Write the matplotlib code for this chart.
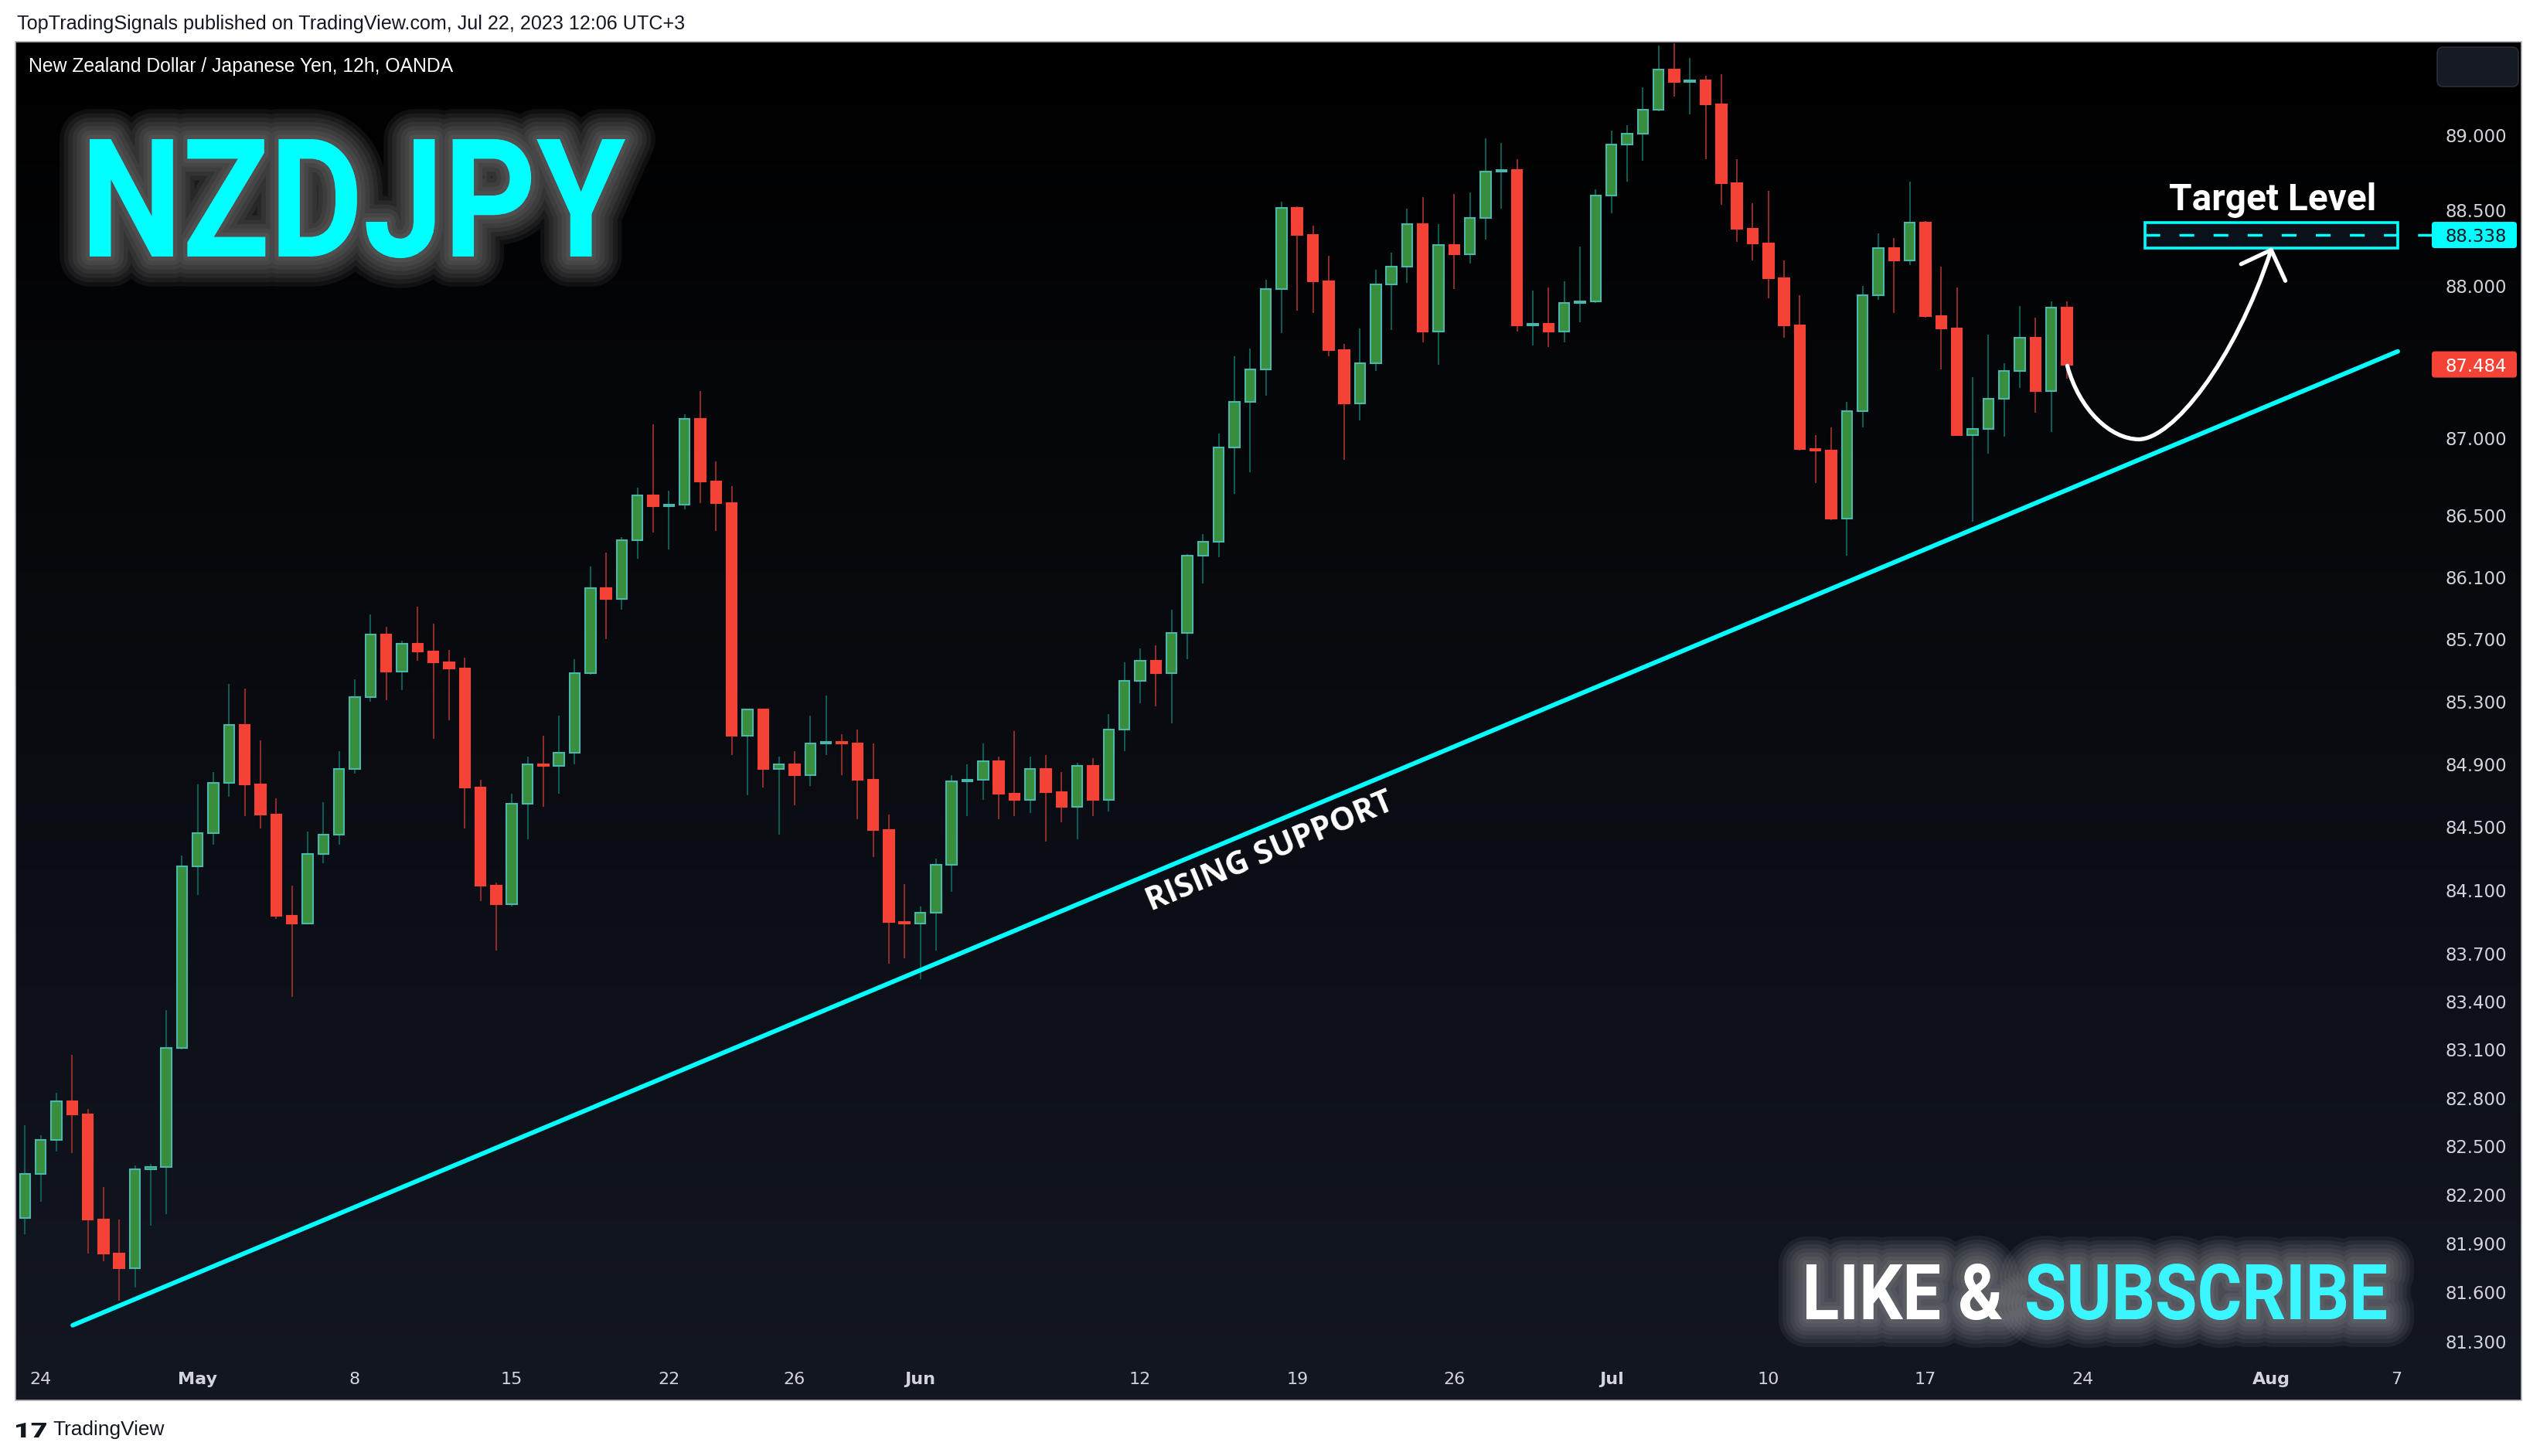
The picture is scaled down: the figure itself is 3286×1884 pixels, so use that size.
import numpy as np
import pandas as pd
import matplotlib
matplotlib.use('Agg')
import matplotlib.pyplot as plt
from matplotlib.patches import PathPatch, FancyBboxPatch, Rectangle
from matplotlib.path import Path
from matplotlib.textpath import TextPath
from matplotlib.font_manager import FontProperties
from matplotlib.transforms import Affine2D, IdentityTransform
from matplotlib.colors import LinearSegmentedColormap
from matplotlib.ticker import NullLocator
import matplotlib.patheffects as pe

# ------------------------------------------------------------------ data
first_bar = '2023-04-21 12:00'   # 12h bars, weekdays only
opens = [82.06, 82.33, 82.54, 82.78, 82.70, 82.05, 81.84, 81.75, 82.36, 82.37,
         83.11, 84.25, 84.46, 84.78, 85.15, 84.77, 84.58, 83.94, 83.89, 84.33,
         84.45, 84.87, 85.33, 85.73, 85.49, 85.67, 85.62, 85.55, 85.51, 84.75,
         84.13, 84.01, 84.65, 84.90, 84.89, 84.97, 85.48, 86.03, 85.96, 86.34,
         86.63, 86.56, 86.57, 87.13, 86.72, 86.58, 85.08, 85.25, 84.87, 84.90,
         84.83, 85.03, 85.04, 85.03, 84.80, 84.48, 83.90, 83.89, 83.96, 84.26,
         84.79, 84.80, 84.92, 84.71, 84.67, 84.87, 84.72, 84.63, 84.89, 84.67,
         85.12, 85.43, 85.56, 85.48, 85.74, 86.24, 86.33, 86.94, 87.24, 87.45,
         87.98, 88.52, 88.34, 88.03, 87.58, 87.23, 87.49, 88.01, 88.13, 88.41,
         87.70, 88.27, 88.21, 88.45, 88.76, 88.77, 87.74, 87.75, 87.70, 87.89,
         87.90, 88.60, 88.94, 89.01, 89.17, 89.44, 89.36, 89.37, 89.21, 88.68,
         88.38, 88.28, 88.05, 87.74, 86.93, 86.92, 86.48, 87.18, 87.94, 88.25,
         88.17, 88.42, 87.80, 87.72, 87.02, 87.06, 87.26, 87.44, 87.66, 87.31,
         87.86]
highs = [82.63, 82.57, 82.83, 83.07, 82.73, 82.25, 82.05, 82.38, 82.39, 83.35,
         84.32, 84.77, 84.85, 85.41, 85.38, 85.05, 84.68, 84.13, 84.47, 84.66,
         84.98, 85.44, 85.86, 85.78, 85.69, 85.91, 85.80, 85.63, 85.58, 84.80,
         84.15, 84.71, 84.95, 85.08, 85.21, 85.57, 86.17, 86.26, 86.36, 86.68,
         87.09, 86.66, 87.16, 87.31, 86.85, 86.69, 85.25, 85.25, 84.95, 84.98,
         85.21, 85.34, 85.09, 85.12, 85.03, 84.58, 84.14, 84.00, 84.30, 84.83,
         84.90, 85.03, 84.95, 85.11, 84.95, 84.96, 84.85, 84.91, 84.94, 85.22,
         85.55, 85.64, 85.66, 85.89, 86.25, 86.38, 87.03, 87.54, 87.59, 88.04,
         88.56, 88.53, 88.40, 88.20, 87.62, 87.72, 88.11, 88.22, 88.51, 88.59,
         88.41, 88.61, 88.62, 88.98, 88.95, 88.84, 87.97, 87.99, 88.03, 88.26,
         88.64, 89.03, 89.07, 89.32, 89.60, 89.62, 89.52, 89.40, 89.41, 88.84,
         88.55, 88.63, 88.17, 87.94, 87.02, 87.07, 87.24, 88.00, 88.35, 88.32,
         88.69, 88.43, 88.13, 87.99, 87.40, 87.68, 87.49, 87.87, 87.79, 87.90,
         87.90]
lows = [81.96, 82.16, 82.47, 82.46, 81.84, 81.79, 81.55, 81.63, 82.01, 82.08,
        83.10, 84.07, 84.39, 84.69, 84.57, 84.49, 83.92, 83.43, 83.89, 84.27,
        84.39, 84.84, 85.30, 85.31, 85.37, 85.56, 85.06, 85.18, 84.49, 84.03,
        83.72, 84.00, 84.42, 84.63, 84.71, 84.90, 85.47, 85.70, 85.89, 86.22,
        86.39, 86.28, 86.54, 86.58, 86.40, 84.96, 84.70, 84.75, 84.45, 84.64,
        84.76, 84.96, 84.83, 84.55, 84.31, 83.64, 83.67, 83.54, 83.72, 84.09,
        84.57, 84.67, 84.55, 84.57, 84.59, 84.41, 84.53, 84.42, 84.57, 84.60,
        84.98, 85.29, 85.27, 85.16, 85.57, 86.06, 86.23, 86.64, 86.78, 87.28,
        87.69, 87.84, 87.82, 87.54, 86.86, 87.12, 87.44, 87.71, 88.02, 87.63,
        87.48, 87.98, 88.15, 88.31, 88.51, 87.70, 87.61, 87.60, 87.63, 87.76,
        87.89, 88.48, 88.69, 88.83, 89.16, 89.26, 89.14, 88.84, 88.54, 88.29,
        88.17, 87.92, 87.66, 86.92, 86.71, 86.47, 86.24, 87.07, 87.91, 87.82,
        88.14, 87.79, 87.45, 87.02, 86.46, 86.90, 87.01, 87.33, 87.17, 87.04,
        87.39]
closes = [82.33, 82.54, 82.78, 82.70, 82.05, 81.84, 81.75, 82.36, 82.37, 83.11,
          84.25, 84.46, 84.78, 85.15, 84.77, 84.58, 83.94, 83.89, 84.33, 84.45,
          84.87, 85.33, 85.73, 85.49, 85.67, 85.62, 85.55, 85.51, 84.75, 84.13,
          84.01, 84.65, 84.90, 84.89, 84.97, 85.48, 86.03, 85.96, 86.34, 86.63,
          86.56, 86.57, 87.13, 86.72, 86.58, 85.08, 85.25, 84.87, 84.90, 84.83,
          85.03, 85.04, 85.03, 84.80, 84.48, 83.90, 83.89, 83.96, 84.26, 84.79,
          84.80, 84.92, 84.71, 84.67, 84.87, 84.72, 84.63, 84.89, 84.67, 85.12,
          85.43, 85.56, 85.48, 85.74, 86.24, 86.33, 86.94, 87.24, 87.45, 87.98,
          88.52, 88.34, 88.03, 87.58, 87.23, 87.49, 88.01, 88.13, 88.41, 87.70,
          88.27, 88.21, 88.45, 88.76, 88.77, 87.74, 87.75, 87.70, 87.89, 87.90,
          88.60, 88.94, 89.01, 89.17, 89.44, 89.36, 89.37, 89.21, 88.68, 88.38,
          88.28, 88.05, 87.74, 86.93, 86.92, 86.48, 87.18, 87.94, 88.25, 88.17,
          88.42, 87.80, 87.72, 87.02, 87.06, 87.26, 87.44, 87.66, 87.31, 87.86,
          87.484]

price_ticks = [81.3, 81.6, 81.9, 82.2, 82.5, 82.8, 83.1, 83.4, 83.7, 84.1,
               84.5, 84.9, 85.3, 85.7, 86.1, 86.5, 87.0, 88.0, 88.5, 89.0]
time_tick_dates = ['2023-04-24', '2023-05-01', '2023-05-08', '2023-05-15',
                   '2023-05-22', '2023-05-26', '2023-06-01', '2023-06-12',
                   '2023-06-19', '2023-06-26', '2023-07-03', '2023-07-10',
                   '2023-07-17', '2023-07-24', '2023-08-01', '2023-08-07']
time_tick_labels = ['24', 'May', '8', '15', '22', '26', 'Jun', '12',
                    '19', '26', 'Jul', '10', '17', '24', 'Aug', '7']

# drawing-tool anchors (bar position, price)
support_x = [3.04, 151.07]
support_p = [81.40, 87.57]
target_price = 88.338
target_zone_x = [135.0, 151.07]
target_zone_p = [88.252, 88.42]
arrow_x = [130.03, 130.79, 132.76, 134.58, 136.70, 140.64, 143.01]
arrow_p = [87.475, 87.188, 86.996, 86.994, 86.996, 87.492, 88.239]
arrow_head_x = [141.09, 143.01, 143.91]
arrow_head_p = [88.145, 88.239, 88.035]
last_price = 87.484

# ------------------------------------------------------------------ style
W, H, DPI = 3286, 1884, 200
CYAN = '#00FFFF'
UP_FILL, UP_EDGE, UP_WICK = '#388E3C', '#4DB6AC', '#0F5A52'
DN_FILL, DN_EDGE, DN_WICK = '#F44336', '#F44336', '#8A2C2A'
AXIS_TXT = '#D1D4DC'

fig = plt.figure(figsize=(W / DPI, H / DPI), dpi=DPI, facecolor='white')
renderer = fig.canvas.get_renderer()
ID = IdentityTransform()


def disp(x, y):
    """pixel (from top-left) -> display coords"""
    return x, H - y


# pane background with vertical gradient
PANE = (20, 54, 3262, 1812)
bg = fig.add_axes([PANE[0] / W, 1 - PANE[3] / H, (PANE[2] - PANE[0]) / W,
                   (PANE[3] - PANE[1]) / H], zorder=0)
grad = np.linspace(0, 1, 256)[:, None]
bg.imshow(grad, aspect='auto',
          cmap=LinearSegmentedColormap.from_list('bg', ['#000000', '#131722']))
bg.set_axis_off()
fig.add_artist(Rectangle(disp(PANE[0], PANE[3]), PANE[2] - PANE[0], PANE[3] - PANE[1],
                         transform=ID, fill=False, ec='#B2B5BE', lw=0.6, zorder=8))

# main price axes
PLOT = (20, 54, 3146, 1760)
ax = fig.add_axes([PLOT[0] / W, 1 - PLOT[3] / H, (PLOT[2] - PLOT[0]) / W,
                   (PLOT[3] - PLOT[1]) / H], zorder=2)
ax.patch.set_visible(False)
for s in ax.spines.values():
    s.set_visible(False)
ax.set_yscale('log')
ax.set_xlim(-0.604, 153.234)
ax.set_ylim(81.187, 89.628)

# bar positions from timestamps
all_ts = pd.date_range(first_bar, '2023-08-25', freq='12h')
bar_ts = all_ts[all_ts.dayofweek < 5]
pos_of = {t: i for i, t in enumerate(bar_ts)}
x = np.arange(len(opens))
o, h, l, c = map(np.array, (opens, highs, lows, closes))
up = c >= o

ax.vlines(x[up], l[up], h[up], color=UP_WICK, lw=0.75, zorder=2)
ax.vlines(x[~up], l[~up], h[~up], color=DN_WICK, lw=0.75, zorder=2)
body_lo = np.minimum(o, c)
body_h = np.maximum(np.abs(c - o), 0.004)
ax.bar(x[up], body_h[up], bottom=body_lo[up], width=0.66, color=UP_FILL,
       edgecolor=UP_EDGE, linewidth=0.75, zorder=3)
ax.bar(x[~up], body_h[~up], bottom=body_lo[~up], width=0.66, color=DN_FILL,
       edgecolor=DN_EDGE, linewidth=0.75, zorder=3)

# axes ticks
ax.set_yticks(price_ticks, labels=[f'{p:.3f}' for p in price_ticks])
ax.yaxis.set_minor_locator(NullLocator())
ax.yaxis.tick_right()
ax.tick_params(axis='y', length=0, pad=97 * 72 / DPI, labelcolor=AXIS_TXT,
               labelsize=8.2)
for lab in ax.get_yticklabels():
    lab.set_horizontalalignment('right')
tick_pos = [pos_of[pd.Timestamp(d)] for d in time_tick_dates]
ax.set_xticks(tick_pos, labels=time_tick_labels)
ax.xaxis.set_minor_locator(NullLocator())
ax.tick_params(axis='x', length=0, pad=15 * 72 / DPI, labelcolor=AXIS_TXT,
               labelsize=8)
for lab, txt in zip(ax.get_xticklabels(), time_tick_labels):
    if txt.isalpha():
        lab.set_fontweight('bold')

# rising support line + label
ax.plot(support_x, support_p, color=CYAN, lw=2.1, solid_capstyle='round', zorder=4)
p0 = ax.transData.transform((support_x[0], support_p[0]))
p1 = ax.transData.transform((support_x[1], support_p[1]))
ang = np.degrees(np.arctan2(p1[1] - p0[1], p1[0] - p0[0]))
t_rs = ax.text(79.27, 84.34, 'RISING SUPPORT', rotation=0, rotation_mode='anchor',
               ha='center', va='center', color='white', fontsize=13,
               family='Open Sans', fontweight='bold', zorder=5)
wflat = t_rs.get_window_extent(renderer).width
t_rs.set_fontsize(13 * 343 / wflat)
t_rs.set_rotation(ang)

# target zone
ax.add_patch(Rectangle((target_zone_x[0], target_zone_p[0]),
                       target_zone_x[1] - target_zone_x[0],
                       target_zone_p[1] - target_zone_p[0],
                       fc='#0B111B', ec=CYAN, lw=1.3, zorder=4))
ax.hlines(target_price, target_zone_x[0], 153.234, color=CYAN, lw=1.25,
          linestyles=(0, (5.5, 7.2)), zorder=5)
t_tl = ax.text(143.1, 88.50, 'Target Level', ha='center', va='baseline',
               color='white', fontsize=17, family='Roboto', fontweight='bold', zorder=5)
t_tl.set_fontsize(17 * 268 / t_tl.get_window_extent(renderer).width)

# projected path arrow
codes = [Path.MOVETO] + [Path.CURVE4] * 6
ax.add_patch(PathPatch(Path(np.column_stack([arrow_x, arrow_p]), codes),
                       fc='none', ec='white', lw=1.9, capstyle='round', zorder=5))
ax.plot(arrow_head_x, arrow_head_p, color='white', lw=1.9,
        solid_capstyle='round', solid_joinstyle='round', zorder=5)


# price tags on the scale
def price_tag(price, fc, tc):
    yd = ax.transData.transform((0, price))[1]
    fig.add_artist(FancyBboxPatch((3146, yd - 17), 110, 34,
                                  boxstyle='round,pad=0,rounding_size=4',
                                  transform=ID, fc=fc, ec='none', zorder=6))
    fig.text(3243, yd, f'{price:.3f}', transform=ID, ha='right', va='center_baseline',
             color=tc, fontsize=8.2, family='DejaVu Sans', zorder=7)


price_tag(target_price, CYAN, '#131722')
price_tag(last_price, '#F44336', 'white')

# top-right button
fig.add_artist(FancyBboxPatch(disp(3153, 112), 105, 51,
                              boxstyle='round,pad=0,rounding_size=8', transform=ID,
                              fc='#161A25', ec='#2A2E39', lw=0.6, zorder=6))


# glowing big titles rendered as fitted text paths
def fitted_path(s, x0, ytop, x1, ybase, family='Roboto', weight='bold'):
    tp = TextPath((0, 0), s, size=100, prop=FontProperties(family=family, weight=weight))
    e = tp.get_extents()
    sx = (x1 - x0) / e.width
    sy = (ybase - ytop) / e.height
    tr = Affine2D().translate(-e.x0, -e.y0).scale(sx, sy).translate(x0, H - ybase)
    return tr.transform_path(tp)


def glow(color, wmax, n, alpha):
    return [pe.Stroke(linewidth=w, foreground=color, alpha=alpha, joinstyle='round')
            for w in np.linspace(wmax, wmax / n, n)] + [pe.Normal()]


def add_glow_text(s, box, color, glow_col, wmax, alpha):
    path = fitted_path(s, *box)
    fig.add_artist(PathPatch(path, transform=ID, fc=color, ec='none', zorder=4,
                             path_effects=glow(glow_col, wmax, 7, alpha)))


add_glow_text('NZDJPY', (116, 180, 809, 334), CYAN, '#C8C8C8', 28, 0.07)
add_glow_text('LIKE &', (2337, 1635, 2590, 1708), 'white', '#C8C8C8', 26, 0.075)
add_glow_text('SUBSCRIBE', (2622, 1635, 3087, 1708), '#3CF6FF', '#C8C8C8', 26, 0.075)


# header / footer texts
def fit_text(x, y, s, width, **kw):
    t = fig.text(x, H - y, s, transform=ID, **kw)
    fs = t.get_fontsize()
    t.set_fontsize(fs * width / t.get_window_extent(renderer).width)
    return t


fit_text(22, 31, 'TopTradingSignals published on TradingView.com, Jul 22, 2023 12:06 UTC+3',
         864, ha='left', va='center', color='#131722', fontsize=8.5,
         family='Liberation Sans')
fit_text(37, 86, 'New Zealand Dollar / Japanese Yen, 12h, OANDA', 547,
         ha='left', va='center', color='white', fontsize=8.8,
         family='Liberation Sans', zorder=7)
fit_text(68, 1850, 'TradingView', 146, ha='left', va='center', color='#131722',
         fontsize=7, family='Liberation Sans')
fig.add_artist(PathPatch(fitted_path('17', 21, 1841, 60, 1860, weight='heavy'),
                         transform=ID, fc='#131722', ec='none'))

fig.savefig('out.png', dpi=DPI, facecolor='white')
